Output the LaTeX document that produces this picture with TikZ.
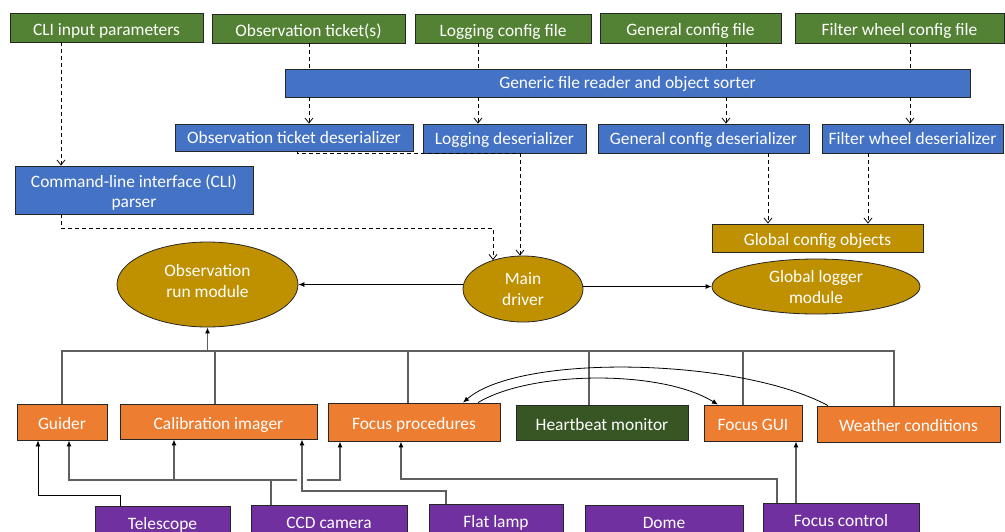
\documentclass[tikz,border=0pt]{standalone}
\usepackage{fontspec}
\setmainfont{Carlito}
\usetikzlibrary{arrows.meta,shapes.geometric}
\definecolor{cgreen}{HTML}{548235}
\definecolor{cblue}{HTML}{4472C4}
\definecolor{cgold}{HTML}{BF9000}
\definecolor{corange}{HTML}{ED7D31}
\definecolor{cdkgreen}{HTML}{375623}
\definecolor{cpurple}{HTML}{7030A0}
\definecolor{cgray}{HTML}{5F5F5F}
\begin{document}
\begin{tikzpicture}[x=1pt,y=-1pt,
  base/.style={draw=black!85, line width=0.8pt, text=white, align=center, inner sep=0pt,
    font=\fontsize{17.4}{20.5}\selectfont, text height=13pt, text depth=0pt},
  gbox/.style={base, fill=cgreen, rectangle},
  bbox/.style={base, fill=cblue, rectangle},
  obox/.style={base, fill=corange, rectangle},
  pbox/.style={base, fill=cpurple, rectangle},
  goldbox/.style={base, fill=cgold, rectangle},
  hbox/.style={base, fill=cdkgreen, rectangle},
  ell/.style={base, fill=cgold, ellipse},
  dasharr/.style={draw=black, line width=0.8pt, dash pattern=on 4pt off 3pt, -{Straight Barb[length=5pt,width=8pt]}},
  dashln/.style={draw=black, line width=0.8pt, dash pattern=on 4pt off 3pt},
  arr/.style={draw=black, line width=0.8pt, -{Latex[length=6pt,width=5pt]}},
  bus/.style={draw=cgray, line width=1.2pt},
  garr/.style={draw=cgray, line width=1.2pt, -{Latex[length=6pt,width=5pt,color=black]}},
]
\useasboundingbox (0,0) rectangle (1005,531);

% top green row
\node[gbox, minimum width=193pt, minimum height=29pt, text height=15pt] (cli)  at (106.5,27.5) {CLI input parameters};
\node[gbox, minimum width=193pt, minimum height=29pt, text height=15pt] (obs)  at (308.5,28.5) {Observation ticket(s)};
\node[gbox, minimum width=176pt, minimum height=29pt, text height=15pt] (logc) at (503,28.5)   {Logging config file};
\node[gbox, minimum width=181pt, minimum height=30pt, text height=15pt] (genc) at (690.5,28)   {General config file};
\node[gbox, minimum width=209pt, minimum height=30pt, text height=15pt] (fwc)  at (899.5,28)   {Filter wheel config file};

% generic reader
\node[bbox, minimum width=685pt, minimum height=28pt, text height=10.6pt] (gen) at (627.5,83) {Generic file reader and object sorter};

% deserializers
\node[bbox, minimum width=238pt, minimum height=27pt, text height=11.6pt] (obsd) at (294,137.5)   {Observation ticket deserializer};
\node[bbox, minimum width=163pt, minimum height=29pt, text height=11.6pt] (logd) at (504.5,138.5) {Logging deserializer};
\node[bbox, minimum width=211pt, minimum height=29pt, text height=11.6pt] (gend) at (703.5,138.5) {General config deserializer};
\node[bbox, minimum width=181pt, minimum height=29pt, text height=11.6pt] (fwd)  at (912.5,138.5) {Filter wheel deserializer};
\node[bbox, minimum width=238pt, minimum height=48pt, text height=35pt] (clip) at (134,190) {Command-line interface (CLI)\\parser};
\node[goldbox, minimum width=211pt, minimum height=28pt, text height=14pt] (gco) at (817.5,238) {Global config objects};

% ellipses
\node[ell, minimum width=181pt, minimum height=85pt, text height=26.4pt, font=\fontsize{17.4}{21}\selectfont] (orm) at (207.5,284.5) {Observation\\run module};
\node[ell, minimum width=120pt, minimum height=66pt, text height=32pt] (md)  at (523,289) {Main\\driver};
\node[ell, minimum width=208pt, minimum height=55pt, text height=33.6pt] (glm) at (816,286.5) {Global logger\\module};

% orange row
\node[obox, minimum width=90pt,  minimum height=36pt, text height=15pt] (guider)  at (62,422)    {Guider};
\node[obox, minimum width=197pt, minimum height=35pt, text height=15pt] (calib)   at (218.5,421.5) {Calibration imager};
\node[obox, minimum width=172pt, minimum height=38pt, text height=15pt] (focp)    at (414,422)   {Focus procedures};
\node[hbox, minimum width=172pt, minimum height=35pt, text height=15pt] (hb)      at (602,422.5) {Heartbeat monitor};
\node[obox, minimum width=98pt,  minimum height=36pt, text height=15pt] (fgui)    at (753,423)   {Focus GUI};
\node[obox, minimum width=183pt, minimum height=36pt, text height=15pt] (weather) at (908.5,424)  {Weather conditions};

% purple row
\node[pbox, minimum width=135pt, minimum height=34pt] (tel)  at (162.5,523) {Telescope};
\node[pbox, minimum width=156pt, minimum height=34pt] (ccd)  at (329,522)   {CCD camera};
\node[pbox, minimum width=134pt, minimum height=34pt] (flat) at (496,521)   {Flat lamp};
\node[pbox, minimum width=158pt, minimum height=34pt] (dome) at (664,522)   {Dome};
\node[pbox, minimum width=156pt, minimum height=34pt] (fctl) at (841,520)   {Focus control};

% dashed connectors (top)
\draw[dasharr] (cli.south -| 61,0) -- (clip.north -| 61,0);
\draw[dashln]  (obs.south -| 309,0) -- (gen.north -| 309,0);
\draw[dasharr] (gen.south -| 309,0) -- (obsd.north -| 309,0);
\draw[dashln]  (logc.south -| 478,0) -- (gen.north -| 478,0);
\draw[dasharr] (gen.south -| 478,0) -- (logd.north -| 478,0);
\draw[dashln]  (genc.south -| 726,0) -- (gen.north -| 726,0);
\draw[dasharr] (gen.south -| 726,0) -- (gend.north -| 726,0);
\draw[dashln]  (fwc.south -| 910,0) -- (gen.north -| 910,0);
\draw[dasharr] (gen.south -| 910,0) -- (fwd.north -| 910,0);
\draw[dashln]  (obsd.south -| 297,0) |- (logd.south -| 520,177);
\draw[dasharr] (logd.south -| 520,0) -- (md.north -| 520,0);
\draw[dasharr] (clip.south -| 61,0) -- (61,228) -| (md.136);
\draw[dasharr] (gend.south -| 768,0) -- (gco.north -| 768,0);
\draw[dasharr] (fwd.south -| 868,0) -- (gco.north -| 868,0);

% main driver arrows
\draw[arr] (orm.east -| md.west) -- (orm.east);
\draw[arr] (glm.west -| md.east) -- (glm.west);

% bus
\draw[bus] (guider.north) -- (62,351) -- (894,351) -- (weather.north -| 894,0);
\draw[bus] (calib.north -| 215,0) -- (215,351);
\draw[bus] (focp.north -| 408,0) -- (408,351);
\draw[bus] (hb.north -| 589,0) -- (589,351);
\draw[bus] (fgui.north -| 743,0) -- (743,351);
\draw[garr] (orm.south |- 0,351) -- (orm.south);

% curves
\draw[arr] (focp.north -| 478,0) .. controls (530,371) and (660,369) .. (fgui.north -| 718,0);
\draw[arr] (weather.north -| 828,0) .. controls (740,358) and (520,353) .. (focp.north -| 463,0);

% bottom connectors
\draw[arr] (tel.north -| 120,0) -- (120,495) -| (guider.south -| 38,0);
\draw[bus] (ccd.north -| 271,0) -- (271,480);
\draw[garr] (297,480) -- (69,480) -- (guider.south -| 69,0);
\draw[garr] (174,480) -- (calib.south -| 174,0);
\draw[garr] (307,480) -- (340,480) -- (focp.south -| 340,0);
\draw[garr] (flat.north -| 446,0) -- (446,491) -| (calib.south -| 302,0);
\draw[garr] (fctl.north -| 777,0) -- (777,479) -| (focp.south -| 401,0);
\draw[garr] (fctl.north -| 796,0) -- (fgui.south -| 796,0);
\end{tikzpicture}
\end{document}
